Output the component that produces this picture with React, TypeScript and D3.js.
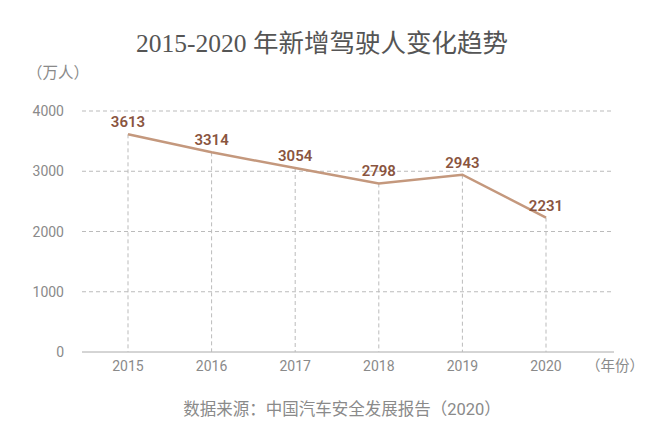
import React from "react";
import * as d3 from "d3";

const years = ["2015", "2016", "2017", "2018", "2019", "2020"];
const drivers = [3613, 3314, 3054, 2798, 2943, 2231];
const yTicks = [0, 1000, 2000, 3000, 4000];

const W = 660;
const H = 444;
const lineColor = "#c4987d";
const labelColor = "#8a553f";
const gray = "#8a8a8a";
const font = "Roboto, 'Noto Sans CJK SC', sans-serif";

export default function App() {
  const x = d3.scalePoint<string>().domain(years).range([128, 546]);
  const y = d3.scaleLinear().domain([0, 4000]).range([352, 111]);
  const gridX0 = 82;
  const gridX1 = 614;
  const line = d3
    .line<number>()
    .x((_, i) => x(years[i]) as number)
    .y((d) => y(d));

  return (
    <svg
      width={W}
      height={H}
      style={{ position: "absolute", left: 0, top: 0, background: "#fff" }}
    >
      <text
        x={322}
        y={52}
        textAnchor="middle"
        fontSize={25.5}
        fill="#555"
        fontFamily="'Liberation Serif', 'Noto Sans CJK SC', serif"
      >
        2015-2020 年新增驾驶人变化趋势
      </text>
      <text x={27} y={78} fontSize={15.5} fill={gray} fontFamily={font}>
        （万人）
      </text>
      {yTicks.map((t) => (
        <g key={t}>
          <line
            x1={gridX0}
            x2={gridX1}
            y1={y(t)}
            y2={y(t)}
            stroke={t === 0 ? "#aaa" : "#bbb"}
            strokeWidth={1}
            strokeDasharray={t === 0 ? undefined : "4,3"}
          />
          <text
            x={64}
            y={y(t) + 5}
            textAnchor="end"
            fontSize={14}
            fill={gray}
            fontFamily={font}
          >
            {t}
          </text>
        </g>
      ))}
      {years.map((yr, i) => (
        <g key={yr}>
          <line
            x1={x(yr)}
            x2={x(yr)}
            y1={y(drivers[i])}
            y2={y(0)}
            stroke="#bbb"
            strokeDasharray="4,3"
          />
          <text
            x={x(yr)}
            y={371}
            textAnchor="middle"
            fontSize={14}
            fill={gray}
            fontFamily={font}
          >
            {yr}
          </text>
        </g>
      ))}
      <text x={586} y={371} fontSize={14.5} fill={gray} fontFamily={font}>
        （年份）
      </text>
      <path d={line(drivers) || ""} fill="none" stroke={lineColor} strokeWidth={2.5} />
      {drivers.map((v, i) => (
        <text
          key={i}
          x={x(years[i])}
          y={y(v) - 7}
          textAnchor="middle"
          fontSize={15}
          fontWeight={600}
          fill={labelColor}
          fontFamily={font}
        >
          {v}
        </text>
      ))}
      <text
        x={342}
        y={415}
        textAnchor="middle"
        fontSize={16.5}
        fill={gray}
        fontFamily={font}
      >
        数据来源：中国汽车安全发展报告（2020）
      </text>
    </svg>
  );
}
